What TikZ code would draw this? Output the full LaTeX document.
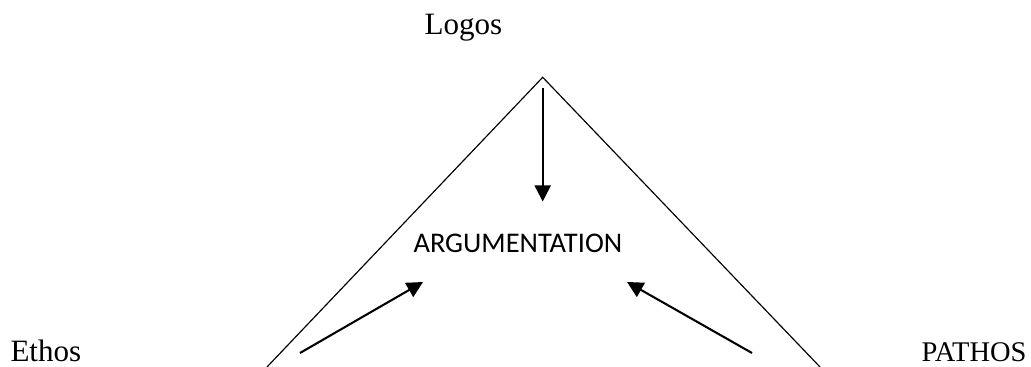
\documentclass[tikz,border=0pt]{standalone}
\usepackage{fontspec}
\setmainfont{Liberation Serif}
\newfontfamily\calibrifont{Carlito}
\usetikzlibrary{arrows.meta}
\begin{document}
\begin{tikzpicture}[x=0.01358cm, y=-0.01358cm,
    side/.style={line width=0.45pt},
    push/.style={line width=0.8pt, -{Triangle[length=6.2pt, width=6.2pt]}},
    pole/.style={font=\fontsize{12}{14}\selectfont, anchor=base west, inner sep=0pt}]
      \useasboundingbox (0,0) rectangle (1031,367);
      % Sommet et pieds du triangle
      \coordinate (apex) at (542.7,77.3);
      \coordinate (leftfoot) at (267,367);
      \coordinate (rightfoot) at (820,367);
      \draw[side] (leftfoot) -- (apex) -- (rightfoot);
      % Les trois poles
      \node[pole] (logos) at (424,35) {Logos};
      \node[pole] (ethos) at (10,362) {Ethos};
      \node[pole, font=\fontsize{11}{13}\selectfont] (pathos) at (921,362) {PATHOS};
      % Centre
      \node[pole, font=\calibrifont\fontsize{11}{13}\selectfont]
            (argu) at (413,253) {ARGUMENTATION};
      % Fleches vers le centre
      \coordinate (logosfrom) at (542.7,88);
      \coordinate (logosto) at (542.7,201.5);
      \coordinate (ethosfrom) at (300,353);
      \coordinate (ethosto) at (423,282);
      \coordinate (pathosfrom) at (752,353);
      \coordinate (pathosto) at (627,282);
      \draw[push] (logosfrom) -- (logosto);
      \draw[push] (ethosfrom) -- (ethosto);
      \draw[push] (pathosfrom) -- (pathosto);
\end{tikzpicture}
\end{document}
